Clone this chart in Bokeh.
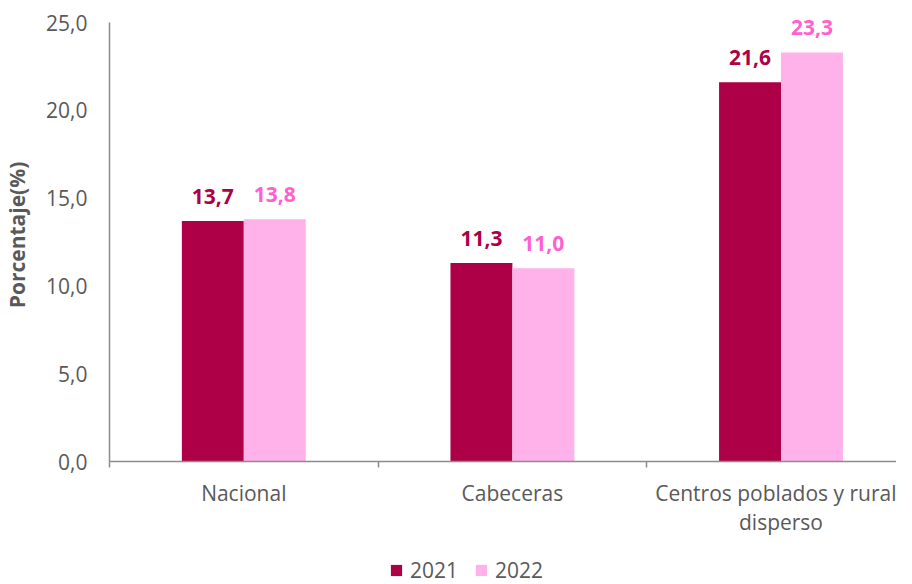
import numpy as np
from bokeh.plotting import figure
from bokeh.layouts import column
from bokeh.models import (ColumnDataSource, FixedTicker, LinearAxis, Range1d,
                          Legend, LegendItem, LabelSet)
from bokeh.core.properties import value
from bokeh.embed import file_html
from bokeh.resources import INLINE

# ---- data ----
categories_line1 = ["Nacional", "Cabeceras", "Centros poblados y rural"]
categories_line2 = ["", "", "disperso"]
values_2021 = [13.7, 11.3, 21.6]
values_2022 = [13.8, 11.0, 23.3]
series_names = ["2021", "2022"]
y_ticks = [0, 5, 10, 15, 20, 25]
y_tick_labels = ["0,0", "5,0", "10,0", "15,0", "20,0", "25,0"]

# ---- styles ----
DARK = "#AE0046"
LIGHT = "#FFB1EA"
LIGHT_TXT = "#FF5FCF"
AXIS_GRAY = "#8C8C8C"
TXT_GRAY = "#595959"
FONT = "Open Sans"

def fmt(v):
    return f"{v:.1f}".replace(".", ",")

centers = np.arange(len(categories_line1)) + 0.5
bw = 0.2306
src = ColumnDataSource(dict(
    x1=centers - bw / 2, x2=centers + bw / 2,
    v21=values_2021, v22=values_2022,
    l21=[fmt(v) for v in values_2021], l22=[fmt(v) for v in values_2022],
))

p = figure(width=896, height=546, x_range=Range1d(0, 2.93), y_range=Range1d(0, 25.8),
           output_backend="svg", toolbar_location=None,
           x_axis_type=None, y_axis_type=None,
           min_border_left=102, min_border_right=0, min_border_top=8, min_border_bottom=85)
p.outline_line_color = None

# y axis
ya = LinearAxis(ticker=FixedTicker(ticks=y_ticks, minor_ticks=[]),
                major_label_overrides={t: l for t, l in zip(y_ticks, y_tick_labels)},
                axis_label="Porcentaje(%)", bounds=(0, 25))
ya.axis_line_color = AXIS_GRAY
ya.axis_line_width = 1.5
ya.major_tick_line_color = None
ya.major_tick_out = 0
ya.major_tick_in = 0
ya.minor_tick_line_color = None
ya.major_label_standoff = 22
ya.major_label_text_font = FONT
ya.major_label_text_font_size = "21px"
ya.major_label_text_color = TXT_GRAY
ya.axis_label_text_font = FONT
ya.axis_label_text_font_size = "21px"
ya.axis_label_text_font_style = "bold"
ya.axis_label_text_color = TXT_GRAY
ya.axis_label_standoff = 12
p.add_layout(ya, "left")

# x axis (first line of category labels + boundary ticks)
xa = LinearAxis(ticker=FixedTicker(ticks=list(centers), minor_ticks=[0, 1, 2, 3]),
                major_label_overrides={float(c): l for c, l in zip(centers, categories_line1)})
xa.axis_line_color = AXIS_GRAY
xa.axis_line_width = 1.5
xa.major_tick_line_color = None
xa.major_tick_out = 0
xa.major_tick_in = 0
xa.minor_tick_line_color = AXIS_GRAY
xa.minor_tick_line_width = 1.5
xa.minor_tick_out = 6
xa.minor_tick_in = 0
xa.major_label_standoff = 11
xa.major_label_text_font = FONT
xa.major_label_text_font_size = "21px"
xa.major_label_text_color = TXT_GRAY
p.add_layout(xa, "below")

# x axis (second line of category labels)
xb = LinearAxis(ticker=FixedTicker(ticks=list(centers), minor_ticks=[]),
                major_label_overrides={float(c): l for c, l in zip(centers, categories_line2)})
xb.axis_line_color = None
xb.major_tick_line_color = None
xb.major_tick_out = 0
xb.major_tick_in = 0
xb.minor_tick_line_color = None
xb.major_label_standoff = -2
xb.major_label_text_font = FONT
xb.major_label_text_font_size = "21px"
xb.major_label_text_color = TXT_GRAY
p.add_layout(xb, "below")

p.vbar(x="x1", top="v21", width=bw, source=src, fill_color=DARK, line_color=None)
p.vbar(x="x2", top="v22", width=bw, source=src, fill_color=LIGHT, line_color=None)

lab1 = LabelSet(x="x1", y="v21", text="l21", source=src, y_offset=17,
                text_align="center", text_baseline="alphabetic",
                text_font=value(FONT), text_font_style="bold",
                text_font_size="21px", text_color=DARK)
lab2 = LabelSet(x="x2", y="v22", text="l22", source=src, y_offset=17,
                text_align="center", text_baseline="alphabetic",
                text_font=value(FONT), text_font_style="bold",
                text_font_size="21px", text_color=LIGHT_TXT)
p.add_layout(lab1)
p.add_layout(lab2)

# ---- legend strip (zero-size swatch renderers, only used by the legend) ----
lg = figure(width=896, height=38, x_range=Range1d(0, 1), y_range=Range1d(0, 1),
            output_backend="svg", toolbar_location=None,
            x_axis_type=None, y_axis_type=None,
            min_border_left=102, min_border_right=0, min_border_top=0, min_border_bottom=0)
lg.outline_line_color = None
lg.border_fill_color = "white"
lg.background_fill_color = "white"
d1 = lg.vbar(x=[0.5], top=[0], width=0, fill_color=DARK, line_color=None)
d2 = lg.vbar(x=[0.5], top=[0], width=0, fill_color=LIGHT, line_color=None)
legend = Legend(items=[LegendItem(label=series_names[0], renderers=[d1]),
                       LegendItem(label=series_names[1], renderers=[d2])],
                location=(280, 0), orientation="horizontal",
                glyph_width=14, glyph_height=14, label_standoff=7, spacing=16,
                padding=0, margin=0, border_line_color=None,
                background_fill_alpha=0, label_height=14,
                label_text_font=FONT, label_text_font_size="21px",
                label_text_color=TXT_GRAY)
lg.add_layout(legend)

layout = column(p, lg, spacing=0)
open("out.html", "w").write(file_html(layout, INLINE))
